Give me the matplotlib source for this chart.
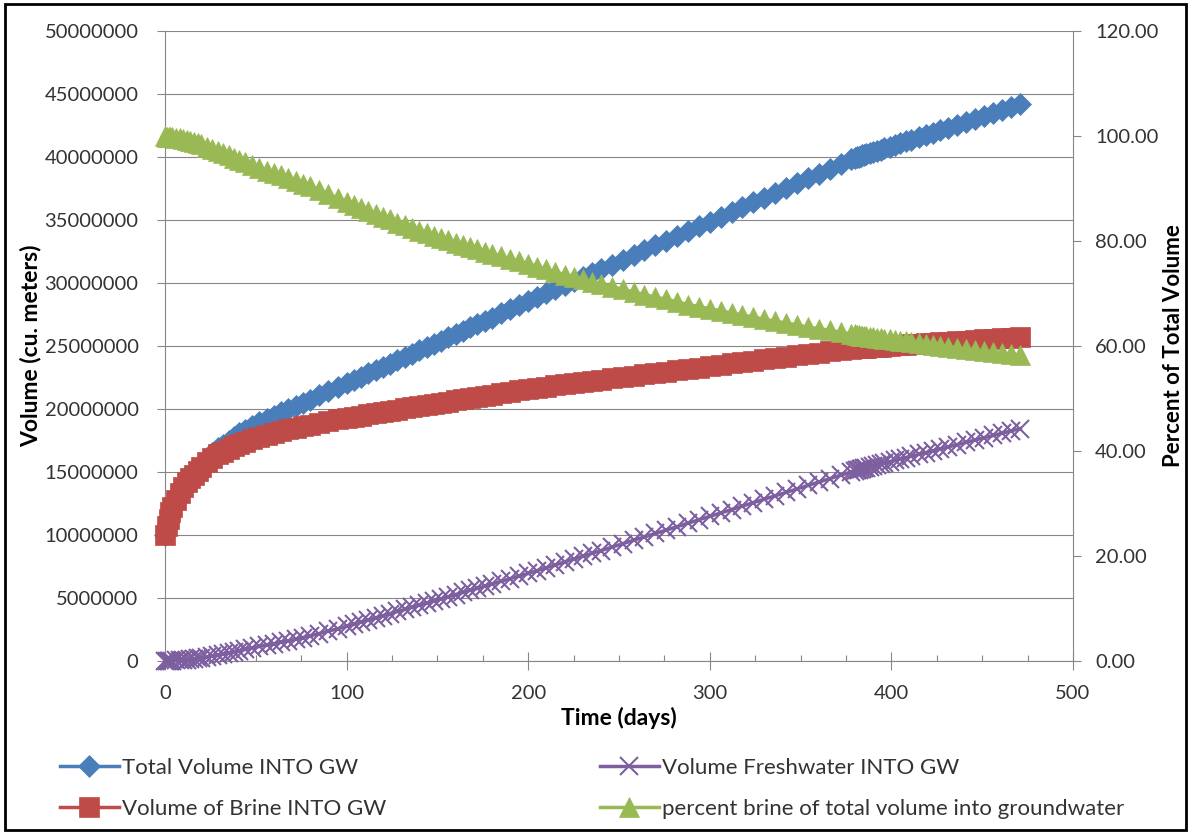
import matplotlib
matplotlib.use("Agg")
import matplotlib.pyplot as plt
from matplotlib.ticker import FixedLocator, MultipleLocator, FuncFormatter
from matplotlib.patches import Rectangle

plt.rcParams['font.family'] = ['Lato', 'DejaVu Sans']

# ---- data ---------------------------------------------------------------
days = [0, 1, 2, 3, 4, 6, 8, 10, 12, 14, 16, 18, 20, 23, 26, 29, 32, 35, 38, 41,
        44, 48, 52, 56, 60, 64, 68, 72, 76, 80, 85, 90, 95, 100,
        104, 108, 112, 116, 120, 124, 128, 132, 136, 140, 144, 148, 152, 156, 160,
        164, 168, 172, 176, 180,
        185, 190, 195, 200, 205, 210, 215, 220, 225, 230, 235, 240,
        246, 252, 258, 264, 270, 276, 282, 288, 294, 300, 306, 312, 318, 324, 330,
        336, 342, 348, 354, 360, 366, 372, 378,
        380, 381, 382, 383, 384, 385, 386, 388, 390, 392, 394, 396, 399, 402, 405,
        408, 411, 415, 419, 423, 427, 431, 436, 441, 446, 451, 456, 461, 466, 471]

# volumes in millions of cubic meters
total_mcm = [10.00, 10.71, 11.31, 11.82, 12.23, 12.84, 13.36, 13.88, 14.30, 14.63,
             14.96, 15.30, 15.65, 16.12, 16.49, 16.87, 17.16, 17.50, 17.79, 18.08,
             18.32, 18.64, 18.96, 19.22, 19.48, 19.74, 20.00, 20.22, 20.51, 20.75,
             21.08, 21.42, 21.76, 22.05,
             22.31, 22.57, 22.83, 23.09, 23.35, 23.61, 23.87, 24.13, 24.39, 24.65,
             24.91, 25.17, 25.43, 25.69, 25.95, 26.21, 26.47, 26.73, 26.99, 27.25,
             27.58, 27.90, 28.23, 28.55, 28.87, 29.18, 29.50, 29.82, 30.13, 30.45,
             30.77, 31.08,
             31.46, 31.85, 32.22, 32.60, 32.98, 33.36, 33.74, 34.12, 34.50, 34.88,
             35.26, 35.64, 36.02, 36.40, 36.78, 37.16, 37.54, 37.91, 38.30, 38.68,
             39.06, 39.44, 39.81,
             39.93, 39.98, 40.02, 40.07, 40.12, 40.16, 40.21, 40.30, 40.40, 40.49,
             40.58, 40.68, 40.82, 40.96, 41.10, 41.24, 41.38, 41.56, 41.75, 41.94,
             42.12, 42.31, 42.54, 42.77, 43.00, 43.24, 43.47, 43.70, 43.94, 44.17]

brine_mcm = [10.0, 10.7, 11.3, 11.8, 12.2, 12.8, 13.3, 13.8, 14.2, 14.5, 14.8, 15.1,
             15.4, 15.8, 16.1, 16.4, 16.6, 16.85, 17.05, 17.25, 17.4, 17.6, 17.8,
             17.95, 18.1, 18.25, 18.4, 18.5, 18.65, 18.75, 18.9, 19.05, 19.2, 19.3,
             19.39, 19.48, 19.58, 19.67, 19.76, 19.85, 19.94, 20.04, 20.13, 20.22,
             20.31, 20.40, 20.50, 20.59, 20.68, 20.77, 20.86, 20.96, 21.05, 21.14,
             21.26, 21.37, 21.49, 21.60, 21.69, 21.78, 21.87, 21.96, 22.05, 22.14,
             22.23, 22.32,
             22.43, 22.54, 22.64, 22.75, 22.86, 22.97, 23.08, 23.18, 23.29, 23.40,
             23.51, 23.62, 23.72, 23.83, 23.94, 24.05, 24.16, 24.26, 24.37, 24.48,
             24.59, 24.70, 24.80,
             24.82, 24.83, 24.84, 24.85, 24.86, 24.87, 24.88, 24.90, 24.92, 24.94,
             24.96, 24.98, 25.01, 25.04, 25.07, 25.10, 25.13, 25.17, 25.21, 25.25,
             25.29, 25.33, 25.37, 25.42, 25.47, 25.52, 25.57, 25.62, 25.67, 25.72]

fresh_mcm = [0.00, 0.01, 0.01, 0.02, 0.03, 0.04, 0.06, 0.08, 0.10, 0.13, 0.16, 0.20,
             0.25, 0.32, 0.39, 0.47, 0.56, 0.65, 0.74, 0.83, 0.92, 1.04, 1.16, 1.27,
             1.38, 1.49, 1.60, 1.72, 1.86, 2.00, 2.18, 2.37, 2.56, 2.75,
             2.92, 3.09, 3.25, 3.42, 3.59, 3.76, 3.93, 4.09, 4.26, 4.43, 4.60, 4.77,
             4.93, 5.10, 5.27, 5.44, 5.61, 5.77, 5.94, 6.11,
             6.32, 6.53, 6.74, 6.95, 7.18, 7.40, 7.63, 7.86, 8.08, 8.31, 8.54, 8.76,
             9.03, 9.31, 9.58, 9.85, 10.12, 10.39, 10.66, 10.94, 11.21, 11.48, 11.75,
             12.02, 12.30, 12.57, 12.84, 13.11, 13.38, 13.65, 13.93, 14.20, 14.47,
             14.74, 15.01,
             15.11, 15.15, 15.18, 15.22, 15.26, 15.29, 15.33, 15.40, 15.48, 15.55,
             15.62, 15.70, 15.81, 15.92, 16.03, 16.14, 16.25, 16.39, 16.54, 16.69,
             16.83, 16.98, 17.17, 17.35, 17.53, 17.72, 17.90, 18.08, 18.27, 18.45]

pct_brine = [100.0, 99.9, 99.9, 99.8, 99.8, 99.7, 99.6, 99.4, 99.3, 99.1, 98.9, 98.7,
             98.4, 98.0, 97.6, 97.2, 96.7, 96.3, 95.8, 95.4, 95.0, 94.4, 93.9, 93.4,
             92.9, 92.5, 92.0, 91.5, 90.9, 90.4, 89.7, 88.9, 88.2, 87.5,
             86.9, 86.3, 85.8, 85.2, 84.6, 84.1, 83.5, 83.0, 82.5, 82.0, 81.5, 81.0,
             80.6, 80.1, 79.7, 79.2, 78.8, 78.4, 78.0, 77.6,
             77.1, 76.6, 76.1, 75.7, 75.1, 74.6, 74.1, 73.6, 73.2, 72.7, 72.2, 71.8,
             71.3, 70.8, 70.3, 69.8, 69.3, 68.9, 68.4, 67.9, 67.5, 67.1, 66.7, 66.3,
             65.9, 65.5, 65.1, 64.7, 64.4, 64.0, 63.6, 63.3, 63.0, 62.6, 62.3,
             62.2, 62.1, 62.1, 62.0, 62.0, 61.9, 61.9, 61.8, 61.7, 61.6, 61.5, 61.4,
             61.3, 61.1, 61.0, 60.9, 60.7, 60.6, 60.4, 60.2, 60.0, 59.9, 59.6, 59.4,
             59.2, 59.0, 58.8, 58.6, 58.4, 58.2]

series_names = ["Total Volume INTO GW", "Volume of Brine INTO GW",
                "Volume Freshwater INTO GW",
                "percent brine of total volume into groundwater"]

volume_ticks = [0, 5000000, 10000000, 15000000, 20000000, 25000000,
                30000000, 35000000, 40000000, 45000000, 50000000]
percent_ticks = [0, 20, 40, 60, 80, 100, 120]
day_ticks = [0, 100, 200, 300, 400, 500]

MCM = 1e6

# ---- figure ---------------------------------------------------------------
W, H = 1189, 834
fig = plt.figure(figsize=(W / 100, H / 100), dpi=100)
fig.patch.set_facecolor('white')

left, right, top, bottom = 165, 1073, 31, 661
ax = fig.add_axes([left / W, 1 - bottom / H, (right - left) / W, (bottom - top) / H])
ax2 = ax.twinx()

AXC = '#868686'
TXT = '#333333'
BLUE, RED, PURPLE, GREEN = '#4A7EBB', '#BE4B48', '#7D5FA0', '#98B954'

l_total, = ax.plot(days, [v * MCM for v in total_mcm], color=BLUE, lw=2.5,
                   marker='D', ms=11.5, mfc=BLUE, mec=BLUE, mew=0.5,
                   clip_on=False, zorder=3, label=series_names[0])
l_brine, = ax.plot(days, [v * MCM for v in brine_mcm], color=RED, lw=2.5,
                   marker='s', ms=14, mfc=RED, mec=RED, mew=0.5,
                   clip_on=False, zorder=4, label=series_names[1])
l_fresh, = ax.plot(days, [v * MCM for v in fresh_mcm], color=PURPLE, lw=2.5,
                   marker='x', ms=13, mec=PURPLE, mew=1.5,
                   clip_on=False, zorder=5, label=series_names[2])
l_pct, = ax2.plot(days, pct_brine, color=GREEN, lw=2.5,
                  marker='^', ms=14.5, mfc=GREEN, mec=GREEN, mew=0.5,
                  clip_on=False, zorder=3, label=series_names[3])

# axes ranges and ticks
ax.set_xlim(0, 500)
ax.set_ylim(0, 50000000)
ax2.set_ylim(0, 120)

ax.yaxis.set_major_locator(FixedLocator(volume_ticks))
ax.yaxis.set_major_formatter(FuncFormatter(lambda v, p: f"{int(round(v))}"))
ax2.yaxis.set_major_locator(FixedLocator(percent_ticks))
ax2.yaxis.set_major_formatter(FuncFormatter(lambda v, p: f"{v:.2f}"))
ax.xaxis.set_major_locator(FixedLocator(day_ticks))
ax.xaxis.set_minor_locator(MultipleLocator(25))

ax.grid(axis='y', which='major', color=AXC, lw=0.8)
ax.set_axisbelow(True)

for a in (ax, ax2):
    for s in a.spines.values():
        s.set_color(AXC)
        s.set_linewidth(0.8)
    a.spines['top'].set_visible(False)
ax.spines['right'].set_visible(False)
ax2.spines['left'].set_visible(False)
ax2.spines['bottom'].set_visible(False)

ax.tick_params(axis='y', which='major', direction='out', length=6, width=0.8,
               color=AXC, labelsize=14.5, labelcolor=TXT, pad=13)
ax2.tick_params(axis='y', which='major', direction='out', length=6, width=0.8,
                color=AXC, labelsize=14.5, labelcolor=TXT, pad=10)
ax.tick_params(axis='x', which='major', direction='inout', length=13, width=0.8,
               color=AXC, labelsize=14.5, labelcolor=TXT, pad=11)
ax.tick_params(axis='x', which='minor', direction='in', length=4, width=0.8,
               color=AXC)

ax.set_xlabel("Time (days)", fontsize=16.5, fontweight='bold', color='black',
              labelpad=3)
ax.set_ylabel("Volume (cu. meters)", fontsize=16.5, fontweight='bold',
              color='black', labelpad=2)
ax2.set_ylabel("Percent of Total Volume", fontsize=16, fontweight='bold',
               color='black', labelpad=3)

# legend below the plot, two columns
leg_kw = dict(frameon=False, loc='upper left', borderpad=0, borderaxespad=0,
              handlelength=2.65, handletextpad=0.15, labelspacing=0.95,
              fontsize=16, labelcolor=TXT, numpoints=1)
fig.legend(handles=[l_total, l_brine], bbox_to_anchor=(60 / W, 1 - 758 / H), **leg_kw)
fig.legend(handles=[l_fresh, l_pct], bbox_to_anchor=(600 / W, 1 - 758 / H), **leg_kw)

# outer frame
fig.patches.append(Rectangle((5 / W, 4 / H), 1181 / W, 826 / H,
                             transform=fig.transFigure, fill=False,
                             edgecolor='black', linewidth=2))

fig.savefig("out.png", dpi=100)
